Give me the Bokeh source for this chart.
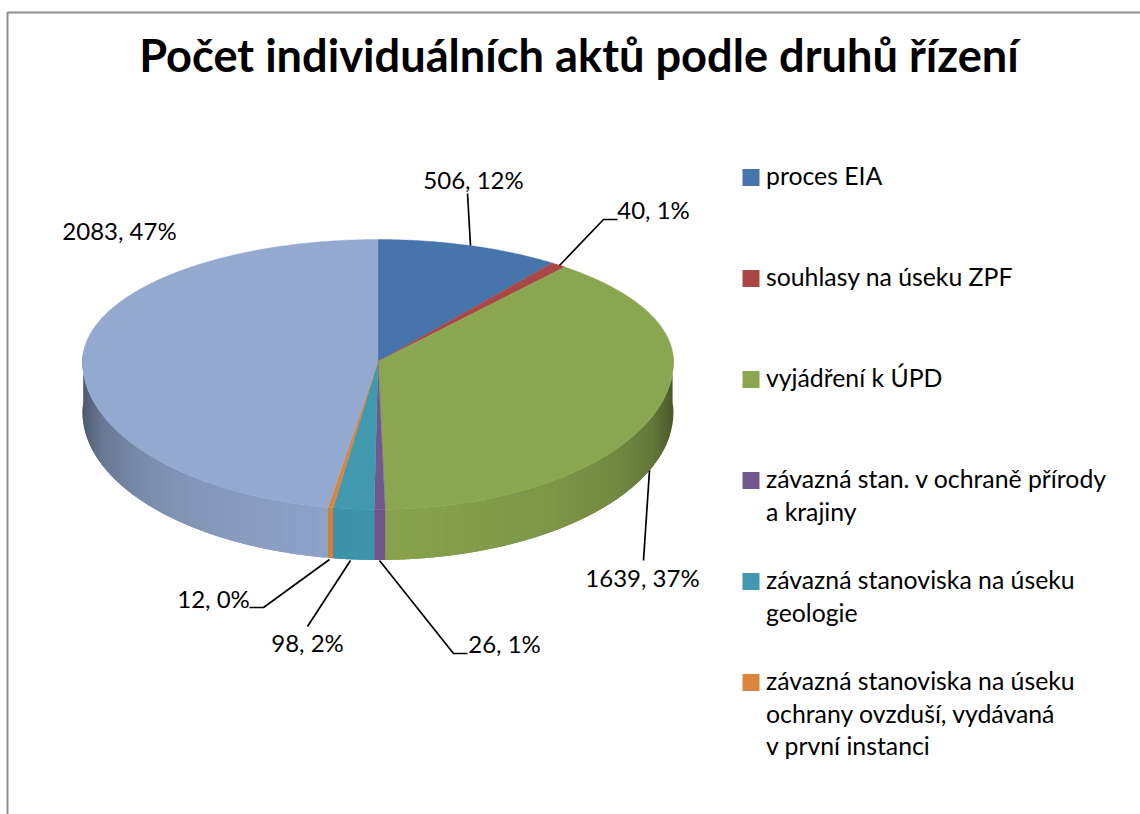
import numpy as np
from bokeh.plotting import figure
from bokeh.models import Range1d
from bokeh.core.properties import value
from bokeh.embed import file_html
from bokeh.resources import INLINE

TITLE = "Počet individuálních aktů podle druhů řízení"
categories = ["proces EIA", "souhlasy na úseku ZPF", "vyjádření k ÚPD",
              "závazná stan. v ochraně přírody\na krajiny",
              "závazná stanoviska na úseku\ngeologie",
              "závazná stanoviska na úseku\nochrany ovzduší, vydávaná\nv první instanci",
              "ostatní"]
counts = [506, 40, 1639, 26, 98, 12, 2083]
percent_labels = ["12%", "1%", "37%", "1%", "2%", "0%", "47%"]
colors = ["#4674AB", "#AA4744", "#8BA650", "#71588F", "#4198AF", "#DB843D", "#93A9CF"]

# layout
W, H = 1140, 814
CX, CY, RX, RY_BACK, RY_FRONT, DEPTH = 377.5, 361, 295.5, 122, 148, 50.5
WARP = np.radians(4.5)
FONT = "Lato"
LABEL_SIZE, LEGEND_SIZE, TITLE_SIZE = "24px", "24.8px", "45.2px"
label_pos = [(473, 179), (653, 209), (642, 577), (504, 643), (307, 642), (213, 598), (119, 230)]
leaders = [[(470, 245), (467, 193)],
           [(559, 265), (603, 219), (617, 219)],
           [(649, 470), (643, 560)],
           [(379, 560), (453, 653), (467, 653)],
           [(350, 560), (307, 626)],
           [(329, 559), (263, 607), (249, 607)],
           []]
legend_y = [177, 278, 379, 480, 581, 682]
LEGEND_TEXT_DY = -2
LINE_STEP = 32.6


def warp(theta):
    return theta - WARP * np.sin(theta) * (1 + np.cos(theta))


def ring(theta, dy=0.0):
    phi = warp(np.asarray(theta, dtype=float))
    c = np.cos(phi)
    ry = np.where(c >= 0, RY_BACK, RY_FRONT)
    return CX + RX * np.sin(phi), CY - ry * c + dy


def scale(hex_col, f):
    rgb = [int(hex_col[i:i + 2], 16) for i in (1, 3, 5)]
    return "#%02x%02x%02x" % tuple(int(min(255, v * f)) for v in rgb)


def shade(theta):
    s = abs(np.sin(warp(theta)))
    return float(np.interp(s, [0, 0.3, 0.6, 0.8, 0.93, 1.0], [0.98, 0.95, 0.90, 0.83, 0.72, 0.54]))


fractions = np.cumsum([0] + counts) / sum(counts)
angles = 2 * np.pi * fractions

p = figure(width=W, height=H, output_backend="svg", toolbar_location=None,
           x_range=Range1d(0, W), y_range=Range1d(H, 0),
           min_border=0, outline_line_color=None)
p.axis.visible = False
p.grid.visible = False
p.background_fill_color = "white"
p.border_fill_color = "white"

# frame
p.line([7, 7, W], [H, 12, 12], line_color="#8c8c8c", line_width=2)

# side walls: overlapping bands about 3 px wide in x, painted in order
BAND = 3.0
for i, col in enumerate(colors):
    a0, a1 = max(angles[i], np.pi / 2), min(angles[i + 1], 3 * np.pi / 2)
    if a1 <= a0:
        continue
    fine = np.linspace(a0, a1, 2000)
    fx, _ = ring(fine)
    edges = [fine[0]]
    last = fx[0]
    for t, x in zip(fine, fx):
        if abs(x - last) >= BAND:
            edges.append(t)
            last = x
    if edges[-1] != fine[-1]:
        edges.append(fine[-1])
    edges = np.array(edges)
    xs, ys, cols = [], [], []
    for j in range(len(edges) - 1):
        t0, t1 = edges[j], edges[min(j + 2, len(edges) - 1)]
        tx, ty = ring(np.linspace(t0, t1, 8))
        bx, by = ring(np.linspace(t1, t0, 8), DEPTH)
        xs.append(list(tx) + list(bx))
        ys.append(list(ty) + list(by))
        cols.append(scale(col, shade((edges[j] + edges[j + 1]) / 2)))
    p.patches(xs, ys, fill_color=cols, line_color=None)

# top faces
for i, col in enumerate(colors):
    n = max(2, int((angles[i + 1] - angles[i]) / np.radians(0.5)))
    tx, ty = ring(np.linspace(angles[i], angles[i + 1], n + 1))
    p.patch([CX] + list(tx), [CY] + list(ty), fill_color=col, line_color=col, line_width=0.4)

# leader lines
for pts in leaders:
    if pts:
        p.line([q[0] for q in pts], [q[1] for q in pts], line_color="black", line_width=1.7)

# data labels
p.text([q[0] for q in label_pos], [q[1] for q in label_pos],
       text=[f"{c}, {l}" for c, l in zip(counts, percent_labels)],
       text_font=value(FONT), text_font_size=LABEL_SIZE, text_color="#000000",
       text_align="center", text_baseline="middle")

# legend
for cat, col, y in zip(categories[:6], colors[:6], legend_y):
    p.quad(left=[742], right=[759], top=[y - 8.5], bottom=[y + 8.5], fill_color=col, line_color=None)
    lines = cat.split("\n")
    p.text([765.5] * len(lines), [y + LEGEND_TEXT_DY + k * LINE_STEP for k in range(len(lines))], text=lines,
           text_font=value(FONT), text_font_size=LEGEND_SIZE, text_color="#000000",
           text_align="left", text_baseline="middle")

# title
p.text([578.5], [54], text=[TITLE], text_font=value(FONT), text_font_size=TITLE_SIZE,
       text_font_style="bold", text_color="#000000", text_align="center", text_baseline="middle")

open("out.html", "w").write(file_html(p, INLINE))
